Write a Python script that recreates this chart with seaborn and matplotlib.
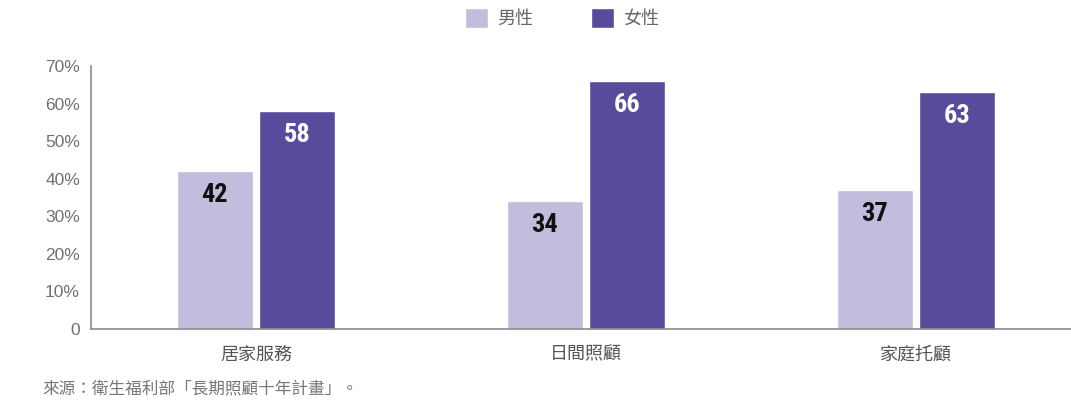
import matplotlib
matplotlib.use("Agg")
import matplotlib.pyplot as plt
import seaborn as sns
import pandas as pd
from matplotlib.patches import Patch
from matplotlib import font_manager

categories = ["居家服務", "日間照顧", "家庭托顧"]
male = [42, 34, 37]
female = [58, 66, 63]
series_names = ["男性", "女性"]
yticks = [0, 10, 20, 30, 40, 50, 60, 70]
ytick_labels = ["0", "10%", "20%", "30%", "40%", "50%", "60%", "70%"]
source_text = "來源：衛生福利部「長期照顧十年計畫」。"

male_color = "#C3BCDD"
female_color = "#574B9B"

sns.set_theme(style="white")
plt.rcParams['font.family'] = ['Noto Sans CJK TC', 'DejaVu Sans']

names = {f.name for f in font_manager.fontManager.ttflist}
narrow = None
for cand in ["Liberation Sans Narrow", "DejaVu Sans Condensed", "Roboto Condensed",
             "Open Sans Condensed", "Noto Sans Condensed"]:
    if cand in names:
        narrow = cand
        break

df = pd.DataFrame({
    "cat": categories * 2,
    "sex": [series_names[0]] * 3 + [series_names[1]] * 3,
    "val": male + female,
})

fig = plt.figure(figsize=(10.71, 4.05), dpi=100)
ax = fig.add_axes([91 / 1071, 1 - 329 / 405, 1 - 91 / 1071, (329 - 66) / 405])

sns.barplot(data=df, x="cat", y="val", hue="sex", order=categories,
            hue_order=series_names, palette=[male_color, female_color],
            width=0.5, gap=0.08, saturation=1, ax=ax, legend=False)

ax.set_xlim(-0.5, 2.47)
ax.set_ylim(0, 70)
ax.set_yticks(yticks)
ax.set_yticklabels(ytick_labels)
ax.set_xlabel("")
ax.set_ylabel("")
for s in ["top", "right"]:
    ax.spines[s].set_visible(False)
for s in ["left", "bottom"]:
    ax.spines[s].set_color("#8a8a8a")
    ax.spines[s].set_linewidth(1.2)
ax.tick_params(axis="y", direction="in", length=5, color="#d5d5d5",
               labelsize=12.5, labelcolor="#707070", pad=8)
ax.tick_params(axis="x", length=0, labelsize=13, labelcolor="#555555", pad=12)
for lab in ax.get_yticklabels():
    lab.set_family(['Liberation Sans', 'DejaVu Sans'])

num_family = [narrow, 'DejaVu Sans'] if narrow else ['DejaVu Sans']
for container, vals, col in zip(ax.containers, [male, female], ["#111111", "white"]):
    for bar, v in zip(container, vals):
        ax.annotate(str(v), (bar.get_x() + bar.get_width() / 2, bar.get_height()),
                    xytext=(0, -17), textcoords="offset points",
                    ha="center", va="center", fontsize=19, fontweight="bold",
                    color=col, family=num_family, fontstretch="condensed")

handles = [Patch(facecolor=male_color, label=series_names[0]),
           Patch(facecolor=female_color, label=series_names[1])]
fig.legend(handles=handles, loc="center", bbox_to_anchor=(562 / 1071, 1 - 18 / 405),
           ncol=2, frameon=False, fontsize=13, handlelength=1.3, handleheight=1.3,
           handletextpad=0.5, columnspacing=3.2, labelcolor="#666666")

fig.text(42 / 1071, 1 - 390 / 405, source_text, fontsize=12, color="#777777",
         va="center", ha="left")

fig.savefig("out.png", dpi=100)
